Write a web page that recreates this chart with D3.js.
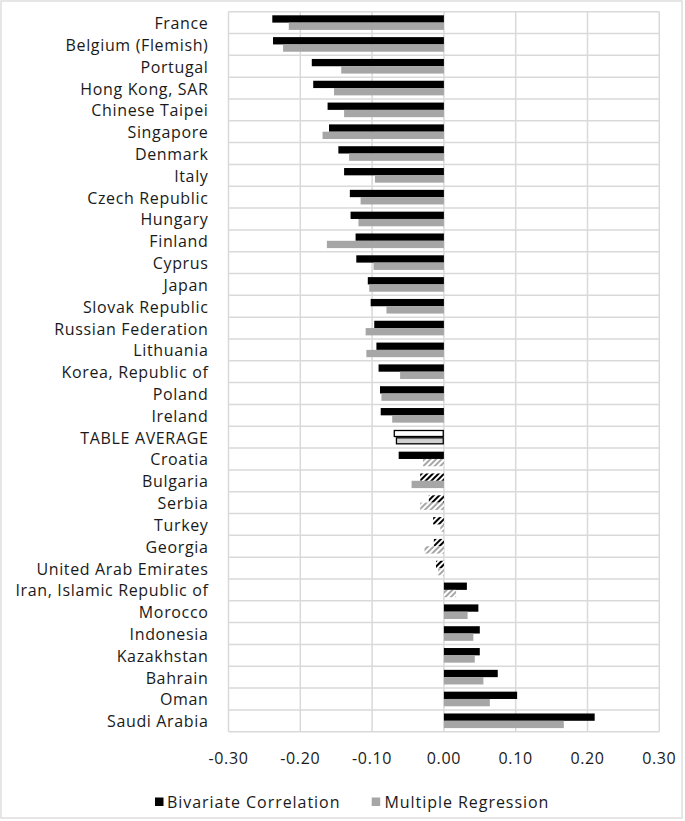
<!DOCTYPE html>
<html>
<head>
<meta charset="utf-8">
<script src="https://cdn.jsdelivr.net/npm/d3@7"></script>
<style>
  html, body { margin: 0; padding: 0; background: #fff; }
  svg { display: block; }
  text { font-family: "Open Sans", "Noto Sans", sans-serif; fill: #1a1a1a; }
</style>
</head>
<body>
<svg id="chart" width="685" height="821"></svg>
<script>
const categories = [
  "France", "Belgium (Flemish)", "Portugal", "Hong Kong, SAR", "Chinese Taipei",
  "Singapore", "Denmark", "Italy", "Czech Republic", "Hungary", "Finland",
  "Cyprus", "Japan", "Slovak Republic", "Russian Federation", "Lithuania",
  "Korea, Republic of", "Poland", "Ireland", "TABLE AVERAGE", "Croatia",
  "Bulgaria", "Serbia", "Turkey", "Georgia", "United Arab Emirates",
  "Iran, Islamic Republic of", "Morocco", "Indonesia", "Kazakhstan",
  "Bahrain", "Oman", "Saudi Arabia"
];
const bivariate = [
  -0.239, -0.238, -0.184, -0.182, -0.162,
  -0.160, -0.147, -0.139, -0.131, -0.130, -0.123,
  -0.122, -0.106, -0.102, -0.097, -0.094,
  -0.091, -0.089, -0.088, -0.070, -0.063,
  -0.033, -0.021, -0.015, -0.014, -0.011,
  0.032, 0.048, 0.050, 0.050,
  0.075, 0.102, 0.210
];
const regression = [
  -0.216, -0.224, -0.143, -0.153, -0.139,
  -0.169, -0.132, -0.096, -0.116, -0.119, -0.163,
  -0.098, -0.104, -0.080, -0.109, -0.108,
  -0.061, -0.087, -0.072, -0.067, -0.029,
  -0.045, -0.033, -0.005, -0.027, -0.008,
  0.017, 0.033, 0.041, 0.043,
  0.055, 0.064, 0.167
];
// 1 = significant (solid), 0 = not significant (hatched)
const bivariateSig = [
  1,1,1,1,1, 1,1,1,1,1,1, 1,1,1,1,1, 1,1,1,1,1,
  0,0,0,0,0, 1,1,1,1, 1,1,1
];
const regressionSig = [
  1,1,1,1,1, 1,1,1,1,1,1, 1,1,1,1,1, 1,1,1,1,0,
  1,0,0,0,0, 0,1,1,1, 1,1,1
];
const averageLabel = "TABLE AVERAGE";
const xTicks = [-0.30, -0.20, -0.10, 0.00, 0.10, 0.20, 0.30];
const seriesNames = ["Bivariate Correlation", "Multiple Regression"];

const svg = d3.select("#chart");
const W = 685, H = 821;
const plot = { left: 228.5, right: 659.3, top: 11.7, bottom: 731.7 };
const BLACK = "#000000", GREY = "#a6a6a6", GRID = "#d9d9d9";

// outer chart border
svg.append("rect").attr("x", 1).attr("y", 1).attr("width", W - 4).attr("height", H - 4)
  .attr("fill", "#fff").attr("stroke", GRID).attr("stroke-width", 1.3);

const defs = svg.append("defs");
function hatch(id, color) {
  const p = defs.append("pattern").attr("id", id).attr("patternUnits", "userSpaceOnUse")
    .attr("width", 4).attr("height", 4).attr("patternTransform", "rotate(45)");
  p.append("rect").attr("width", 4).attr("height", 4).attr("fill", "#fff");
  p.append("rect").attr("x", 0).attr("y", 0).attr("width", 2).attr("height", 4).attr("fill", color);
}
hatch("hatchBlack", BLACK);
hatch("hatchGrey", GREY);

const x = d3.scaleLinear().domain([-0.30, 0.30]).range([plot.left, plot.right]);
const y = d3.scaleBand().domain(categories).range([plot.top, plot.bottom]).paddingInner(0).paddingOuter(0);
const step = y.step();
const sub = d3.scaleBand().domain(["b", "r"]).range([step * 0.165, step * 0.835]).padding(0);

// gridlines
const grid = svg.append("g");
xTicks.forEach(t => {
  grid.append("line").attr("x1", x(t)).attr("x2", x(t))
    .attr("y1", plot.top).attr("y2", plot.bottom)
    .attr("stroke", GRID).attr("stroke-width", 1.5);
});
const bounds = categories.map(c => y(c)).concat([plot.bottom]);
bounds.forEach(b => {
  grid.append("line").attr("x1", plot.left).attr("x2", plot.right)
    .attr("y1", b).attr("y2", b)
    .attr("stroke", GRID).attr("stroke-width", 1.5);
});

// bars
const rows = categories.map((c, i) => ({
  c, b: bivariate[i], r: regression[i], bs: bivariateSig[i], rs: regressionSig[i]
}));
const bars = svg.append("g");
rows.forEach(d => {
  const isAvg = d.c === averageLabel;
  [["b", d.b, d.bs], ["r", d.r, d.rs]].forEach(([key, v, sig]) => {
    let fill, stroke = "none", sw = 0;
    if (isAvg) {
      fill = key === "b" ? "#ffffff" : "#d0d0d0";
      stroke = BLACK; sw = 1.3;
    } else if (sig) {
      fill = key === "b" ? BLACK : GREY;
    } else {
      fill = key === "b" ? "url(#hatchBlack)" : "url(#hatchGrey)";
    }
    const x0 = Math.min(x(0), x(v)), x1 = Math.max(x(0), x(v));
    const inset = isAvg ? 0.65 : 0;
    bars.append("rect")
      .attr("x", x0 + inset).attr("width", Math.max(0, x1 - x0 - 2 * inset))
      .attr("y", y(d.c) + sub(key) + inset).attr("height", sub.bandwidth() - 2 * inset)
      .attr("fill", fill).attr("stroke", stroke).attr("stroke-width", sw);
  });
});

// category labels
const fs = 16, ls = "0.65px";
svg.append("g").selectAll("text").data(categories).join("text")
  .attr("x", 208.5).attr("y", d => y(d) + step / 2 + 0.5)
  .attr("text-anchor", "end").attr("dominant-baseline", "central")
  .style("font-size", fs + "px").style("letter-spacing", ls)
  .text(d => d);

// x axis tick labels
svg.append("g").selectAll("text").data(xTicks).join("text")
  .attr("x", d => x(d)).attr("y", 758)
  .attr("text-anchor", "middle").attr("dominant-baseline", "central")
  .style("font-size", fs + "px").style("letter-spacing", ls)
  .text(d => d3.format(".2f")(d).replace("\u2212", "-"));

// legend
const leg = svg.append("g");
const legItems = [
  { name: seriesNames[0], color: BLACK, sx: 155, tx: 167 },
  { name: seriesNames[1], color: GREY, sx: 371.7, tx: 384.5 }
];
legItems.forEach(it => {
  leg.append("rect").attr("x", it.sx).attr("y", 797.5).attr("width", 8.5).attr("height", 8.5).attr("fill", it.color);
  leg.append("text").attr("x", it.tx).attr("y", 801.7).attr("dominant-baseline", "central")
    .style("font-size", fs + "px").style("letter-spacing", "0.95px").text(it.name);
});
</script>
</body>
</html>
